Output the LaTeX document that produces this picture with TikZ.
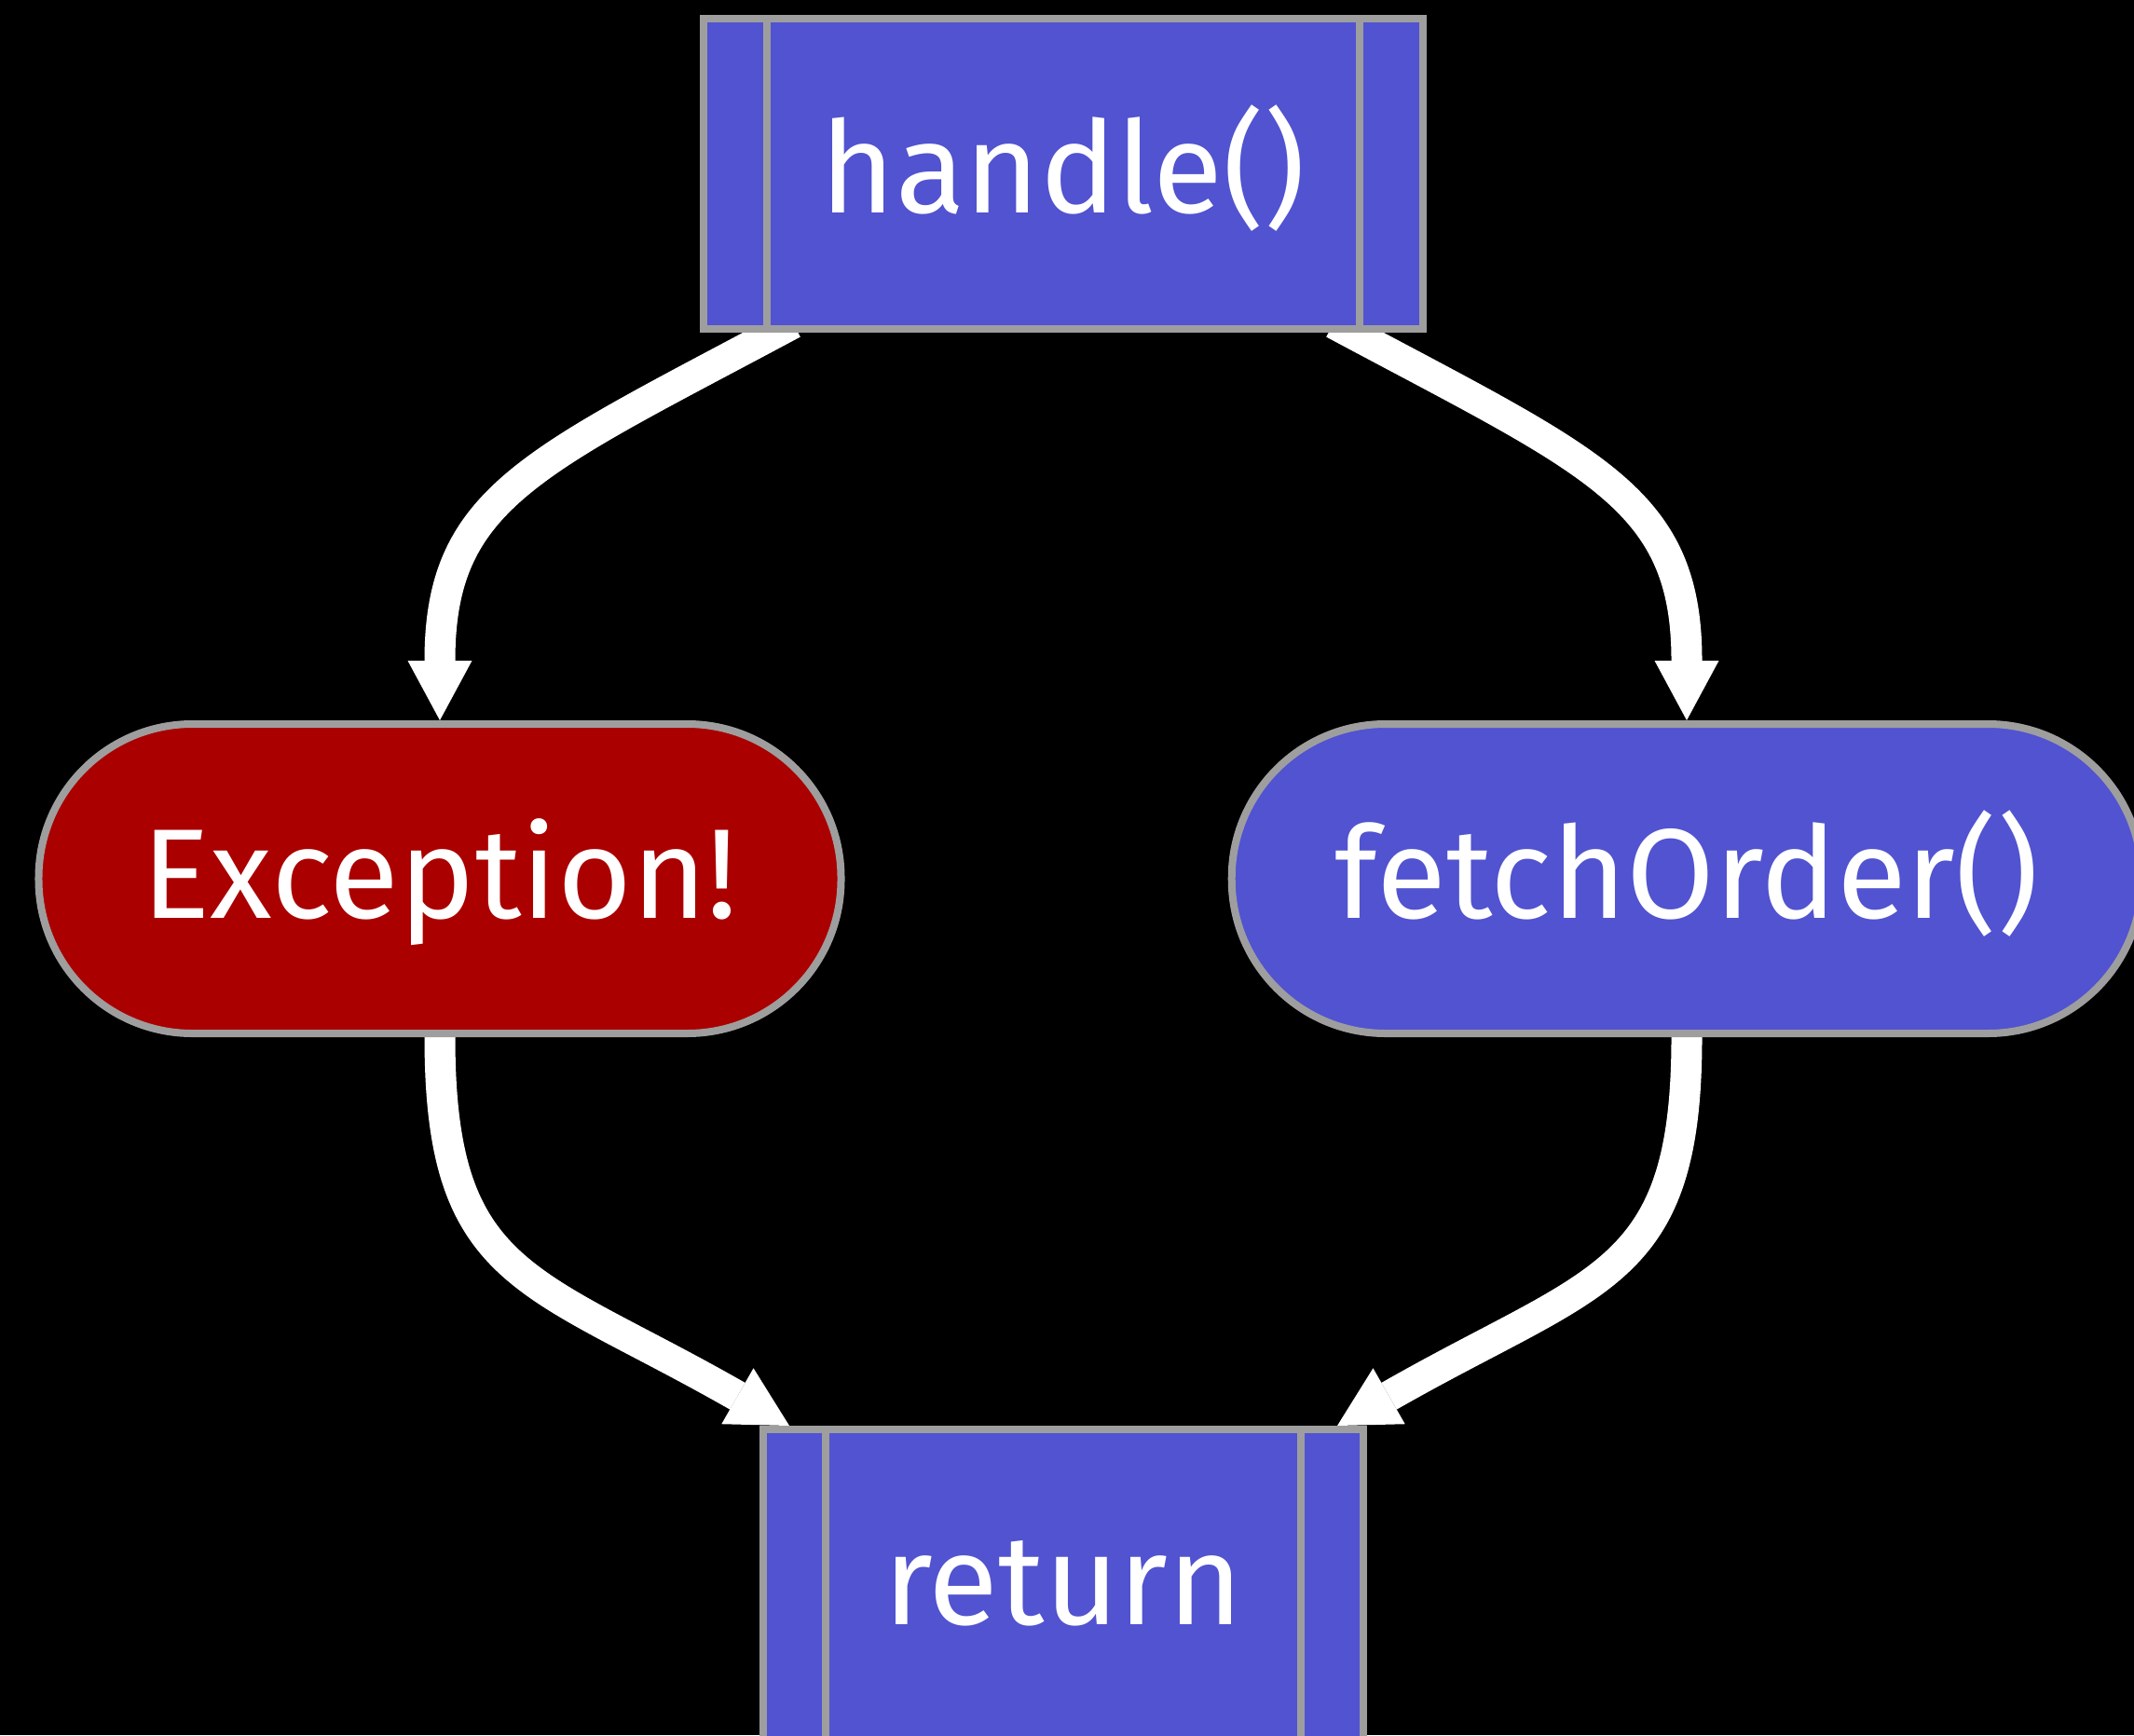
\documentclass[tikz,border=0pt]{standalone}
\usepackage{fontspec}
\setmainfont{Fira Sans}
\usepackage{tikz}
\usepackage{xcolor}
\usetikzlibrary{arrows.meta, positioning, calc}
\definecolor{CallBlue}{HTML}{5153D0}
\definecolor{FailRed}{HTML}{AA0000}
\definecolor{RimGray}{HTML}{9E9E9E}
\pgfdeclarelayer{front}
\pgfsetlayers{main,front}
\tikzset{
    label font/.style={text=white, font=\fontsize{39}{47}\selectfont,
                       text height=1.12cm, text depth=0.27cm},
    subbox/.style={rectangle, fill=CallBlue, draw=RimGray, line width=0.8mm,
                   minimum height=3.33cm, label font},
    pill/.style={rectangle, rounded corners=1.65cm, draw=RimGray, line width=0.8mm,
                 minimum height=3.32cm, inner xsep=1.11cm, label font},
    flow/.style={draw=white, line width=3.3mm,
                 -{Triangle[length=6.4mm, width=6.9mm, line width=0pt]}}
}

\begin{document}
\begin{tikzpicture}
    \fill[black] (0,0) rectangle (22.9,-18.62);
    \useasboundingbox (0,0) rectangle (22.9,-18.62);

    \begin{pgfonlayer}{front}
        \node[subbox, minimum width=7.72cm] (handle) at (11.41,-1.865) {handle()};
        \node[pill, fill=FailRed] (exc) at (4.72,-9.43) {Exception!};
        \node[pill, fill=CallBlue] (fetch) at (18.10,-9.43) {fetchOrder()};
        \node[subbox, minimum width=6.44cm, below=11.73cm of handle] (ret) {return};

        % side bars of the two call boxes
        \foreach \b/\d in {handle/0.72, ret/0.71} {
            \draw[RimGray, line width=0.8mm]
                ([xshift=\d cm]\b.north west) -- ([xshift=\d cm]\b.south west)
                ([xshift=-\d cm]\b.north east) -- ([xshift=-\d cm]\b.south east);
        }
    \end{pgfonlayer}

    \draw[flow] ([xshift=-2.9cm, yshift=0.1cm]handle.south)
        .. controls +(-2.8,-1.5) and +(0,2.4) .. (exc.north);
    \draw[flow] ([xshift=2.9cm, yshift=0.1cm]handle.south)
        .. controls +(2.8,-1.5) and +(0,2.4) .. (fetch.north);
    \draw[flow] (exc.south)
        .. controls +(0,-2.6) and +(-2.8,1.6) .. ([xshift=-2.94cm]ret.north);
    \draw[flow] (fetch.south)
        .. controls +(0,-2.6) and +(2.8,1.6) .. ([xshift=2.94cm]ret.north);
\end{tikzpicture}
\end{document}
